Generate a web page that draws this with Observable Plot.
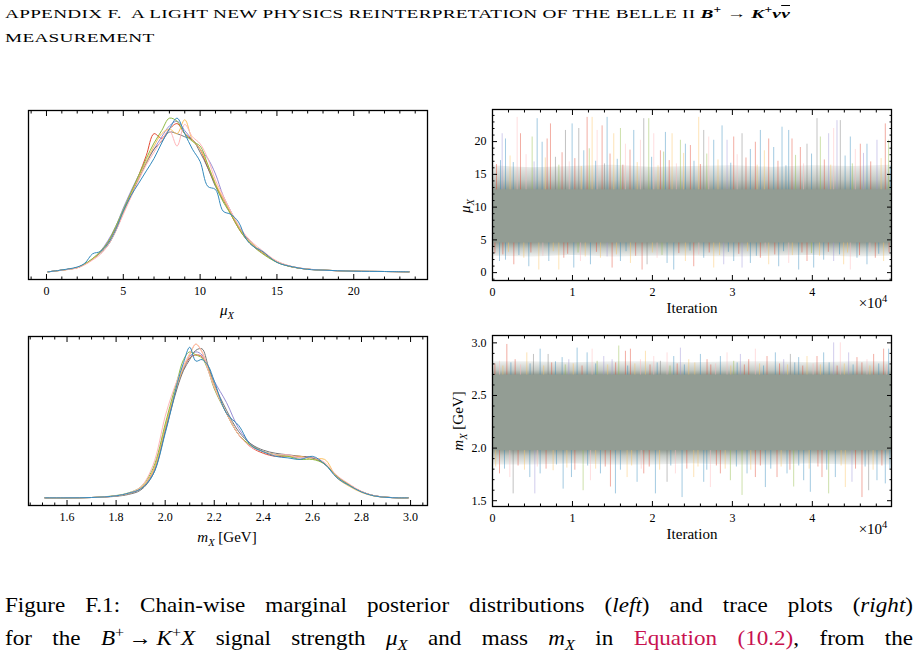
<!DOCTYPE html>
<html>
<head>
<meta charset="utf-8">
<script src="https://cdn.jsdelivr.net/npm/d3@7"></script>
<script src="https://cdn.jsdelivr.net/npm/@observablehq/plot@0.6"></script>
<style>
  body { margin: 0; background: #fff; }
  #page { position: relative; width: 919px; height: 656px; overflow: hidden; background: #fff;
          font-family: "Liberation Serif", "DejaVu Serif", serif; color: #000; }
  .abs { position: absolute; white-space: nowrap; }
  .hdr { font-size: 13.5px; left: 5px; transform-origin: 0 0; letter-spacing: 0.2px; }
  .lbl { font-size: 15px; transform: translate(-50%, -50%); }
  .rot { font-size: 15px; transform: translate(-50%, -50%) rotate(-90deg); }
  .cap { font-size: 21px; left: 5px; transform-origin: 0 0; }
  .ref { color: #c8124f; }
  .bar { text-decoration: overline; }
  sub, sup { font-size: 70%; line-height: 0; }
  .panel { position: absolute; }
</style>
</head>
<body>
<div id="page">
  <div class="abs hdr" id="hdr1" style="top:6px">APPENDIX F.&nbsp; A LIGHT NEW PHYSICS REINTERPRETATION OF THE BELLE II <b><i>B</i><sup>+</sup> → <i>K</i><sup>+</sup><i>ν<span class="bar">ν</span></i></b></div>
  <div class="abs hdr" id="hdr2" style="top:30px">MEASUREMENT</div>

  <div class="panel" id="muDensity" style="left:0px;top:100px"></div>
  <div class="panel" id="muTrace" style="left:440px;top:100px"></div>
  <div class="panel" id="mDensity" style="left:0px;top:326px"></div>
  <div class="panel" id="mTrace" style="left:440px;top:326px"></div>

  <div class="abs lbl" style="left:227px;top:310px"><i>μ<sub>X</sub></i></div>
  <div class="abs rot" style="left:465px;top:206px"><i>μ<sub>X</sub></i></div>
  <div class="abs lbl" style="left:692px;top:308px">Iteration</div>
  <div class="abs lbl" style="left:873px;top:303px">×10<sup>4</sup></div>

  <div class="abs lbl" style="left:227px;top:537px"><i>m<sub>X</sub></i> [GeV]</div>
  <div class="abs rot" style="left:458px;top:421px"><i>m<sub>X</sub></i> [GeV]</div>
  <div class="abs lbl" style="left:692px;top:534px">Iteration</div>
  <div class="abs lbl" style="left:873px;top:529px">×10<sup>4</sup></div>

  <div class="abs cap" id="cap1" style="top:593px">Figure F.1: Chain-wise marginal posterior distributions (<i>left</i>) and trace plots (<i>right</i>)</div>
  <div class="abs cap" id="cap2" style="top:626px">for the <i>B</i><sup>+</sup>&#8239;→&#8239;<i>K</i><sup>+</sup><i>X</i> signal strength <i>μ<sub>X</sub></i> and mass <i>m<sub>X</sub></i> in <span class="ref">Equation (10.2)</span>, from the</div>
</div>
<script>
// Chain colours (ggplot-style cycle), one per MCMC chain
const palette = ["#E24A33", "#348ABD", "#988ED5", "#777777", "#FBC15E", "#8EBA42", "#FFB5B8"];
// blue chain drawn last, on top
const drawOrder = [0, 2, 3, 4, 5, 6, 1];

// ---- Marginal posterior of mu_X, per chain (relative density) ----
const muGrid = [0.1, 1, 2, 2.5, 3, 3.5, 4, 4.5, 5, 5.5, 6, 6.5, 7, 7.5, 8, 8.5, 9, 9.5, 10, 10.5, 11, 11.5, 12, 12.5, 13, 13.5, 14, 15, 16, 17, 18, 20, 22, 23.6];
const muChainRed    = [0.009,0.020,0.036,0.058,0.090,0.135,0.20,0.29,0.40,0.52,0.63,0.76,0.90,0.87,0.93,0.965,0.90,0.86,0.80,0.68,0.57,0.48,0.38,0.29,0.22,0.17,0.135,0.072,0.040,0.026,0.020,0.013,0.011,0.009];
const muChainBlue   = [0.009,0.021,0.040,0.065,0.125,0.140,0.19,0.28,0.40,0.50,0.58,0.66,0.74,0.84,0.93,1.00,0.90,0.80,0.72,0.56,0.54,0.40,0.38,0.33,0.22,0.17,0.145,0.070,0.042,0.025,0.020,0.013,0.011,0.009];
const muChainPurple = [0.009,0.020,0.037,0.060,0.090,0.140,0.21,0.30,0.42,0.53,0.63,0.72,0.80,0.88,0.95,0.98,0.92,0.86,0.80,0.74,0.64,0.50,0.40,0.30,0.23,0.175,0.14,0.075,0.041,0.027,0.020,0.013,0.011,0.009];
const muChainGray   = [0.009,0.020,0.036,0.058,0.092,0.130,0.18,0.27,0.39,0.50,0.61,0.71,0.80,0.85,0.91,0.90,0.88,0.86,0.78,0.68,0.56,0.47,0.39,0.30,0.23,0.18,0.14,0.074,0.041,0.026,0.020,0.013,0.011,0.009];
const muChainYellow = [0.009,0.019,0.035,0.057,0.090,0.135,0.19,0.28,0.39,0.51,0.62,0.72,0.82,0.90,0.93,0.90,0.99,0.86,0.80,0.70,0.58,0.48,0.39,0.30,0.225,0.18,0.14,0.076,0.042,0.026,0.020,0.013,0.011,0.009];
const muChainGreen  = [0.009,0.020,0.037,0.060,0.095,0.140,0.20,0.30,0.41,0.52,0.63,0.74,0.84,0.92,1.00,0.98,0.90,0.85,0.82,0.70,0.57,0.46,0.38,0.29,0.22,0.17,0.13,0.070,0.040,0.026,0.020,0.013,0.011,0.009];
const muChainPink   = [0.009,0.019,0.034,0.055,0.085,0.120,0.18,0.27,0.38,0.49,0.60,0.70,0.78,0.86,0.92,0.82,0.96,0.88,0.835,0.74,0.60,0.50,0.40,0.31,0.24,0.19,0.15,0.078,0.043,0.027,0.020,0.013,0.011,0.009];

// ---- Marginal posterior of m_X [GeV], per chain (relative density) ----
const mGrid = [1.51, 1.6, 1.7, 1.8, 1.85, 1.9, 1.95, 2.0, 2.025, 2.05, 2.075, 2.1, 2.125, 2.15, 2.175, 2.2, 2.25, 2.3, 2.35, 2.4, 2.45, 2.5, 2.55, 2.6, 2.65, 2.7, 2.75, 2.8, 2.85, 2.9, 2.95, 2.99];
const mChainRed    = [0,0,0.002,0.012,0.027,0.060,0.17,0.45,0.60,0.73,0.84,0.91,0.93,0.92,0.84,0.72,0.55,0.41,0.33,0.29,0.27,0.27,0.27,0.26,0.22,0.14,0.085,0.040,0.014,0.004,0,0];
const mChainBlue   = [0,0,0.002,0.013,0.030,0.058,0.15,0.42,0.58,0.75,0.88,0.98,0.89,0.90,0.86,0.76,0.55,0.47,0.34,0.30,0.27,0.26,0.25,0.27,0.22,0.13,0.080,0.038,0.013,0.003,0,0];
const mChainPurple = [0,0,0.002,0.013,0.028,0.060,0.16,0.44,0.59,0.73,0.84,0.92,0.95,0.93,0.85,0.76,0.62,0.45,0.35,0.30,0.28,0.27,0.26,0.26,0.22,0.135,0.085,0.040,0.014,0.004,0,0];
const mChainGray   = [0,0,0.002,0.010,0.022,0.050,0.15,0.43,0.58,0.72,0.83,0.90,0.96,0.97,0.86,0.74,0.57,0.43,0.35,0.31,0.29,0.28,0.27,0.26,0.22,0.14,0.085,0.040,0.014,0.004,0,0];
const mChainYellow = [0,0,0.002,0.013,0.028,0.062,0.17,0.46,0.61,0.74,0.85,0.93,1.00,0.95,0.84,0.73,0.55,0.41,0.34,0.30,0.28,0.27,0.27,0.25,0.25,0.13,0.075,0.035,0.012,0.003,0,0];
const mChainGreen  = [0,0,0.002,0.015,0.032,0.070,0.19,0.48,0.63,0.77,0.90,0.95,0.93,0.91,0.83,0.71,0.55,0.41,0.34,0.30,0.28,0.27,0.25,0.25,0.22,0.14,0.085,0.040,0.014,0.004,0,0];
const mChainPink   = [0,0,0.002,0.013,0.030,0.070,0.21,0.53,0.66,0.77,0.86,0.94,1.00,0.95,0.83,0.72,0.55,0.41,0.33,0.30,0.28,0.28,0.26,0.265,0.23,0.145,0.090,0.042,0.015,0.004,0,0];

const muChains = [muChainRed, muChainBlue, muChainPurple, muChainGray, muChainYellow, muChainGreen, muChainPink];
const mChains  = [mChainRed, mChainBlue, mChainPurple, mChainGray, mChainYellow, mChainGreen, mChainPink];

// ---- Trace plots: bulk of the chains (solid core, fading shoulder and fringe) and their excursions ----
const traceBins = [0, 5000, 10000, 15000, 20000, 25000, 30000, 35000, 40000, 45000, 49900];
const muCoreLow      = [4.6, 4.5, 4.6, 4.4, 4.5, 4.6, 4.5, 4.4, 4.6, 4.5, 4.6];
const muCoreHigh     = [12.7, 12.5, 12.6, 12.8, 12.5, 12.7, 12.6, 12.5, 12.7, 12.6, 12.8];
const muShoulderLow  = [3.6, 3.5, 3.7, 3.5, 3.6, 3.6, 3.5, 3.6, 3.7, 3.5, 3.6];
const muShoulderHigh = [14.2, 14.0, 14.1, 14.3, 14.0, 14.1, 14.2, 14.0, 14.2, 14.1, 14.3];
const muFringeLow    = [2.5, 2.4, 2.6, 2.4, 2.5, 2.5, 2.4, 2.5, 2.6, 2.4, 2.5];
const muFringeHigh   = [16.3, 16.0, 16.2, 16.4, 16.1, 16.2, 16.3, 16.1, 16.3, 16.2, 16.4];
const mCoreLow       = [1.98, 1.97, 1.98, 1.98, 1.97, 1.98, 1.98, 1.97, 1.98, 1.98, 1.97];
const mCoreHigh      = [2.69, 2.70, 2.69, 2.69, 2.70, 2.69, 2.69, 2.70, 2.69, 2.69, 2.70];
const mShoulderLow   = [1.92, 1.92, 1.93, 1.92, 1.92, 1.93, 1.92, 1.92, 1.93, 1.92, 1.92];
const mShoulderHigh  = [2.74, 2.74, 2.73, 2.74, 2.74, 2.73, 2.74, 2.74, 2.73, 2.74, 2.74];
const mFringeLow     = [1.84, 1.84, 1.85, 1.84, 1.84, 1.85, 1.84, 1.84, 1.85, 1.84, 1.84];
const mFringeHigh    = [2.82, 2.82, 2.81, 2.82, 2.82, 2.81, 2.82, 2.82, 2.81, 2.82, 2.82];

// [iteration, extreme value, chain]
const muSpikesUp = [[1000,17.1,1],[1208,21.2,2],[1625,20.4,1],[3083,23.7,6],[3500,21.2,0],[4958,20.7,5],[5583,23.5,1],[6208,19.9,1],[6833,20.4,0],[7250,22.7,0],[7875,17.6,3],[9125,21.7,3],[9958,22.7,1],[10792,22.0,3],[11417,18.6,1],[11833,23.7,0],[12458,23.7,4],[13083,21.7,6],[13708,22.4,0],[14333,23.7,1],[15167,21.2,4],[16000,22.0,5],[16625,19.6,6],[17667,21.7,1],[18500,20.2,6],[18917,23.5,3],[19542,23.5,5],[20167,21.2,6],[21000,18.6,0],[21625,21.4,1],[22458,21.2,4],[23500,20.2,5],[24125,19.6,1],[24750,19.4,0],[25792,23.7,4],[26417,21.7,3],[27042,20.7,6],[27667,20.2,1],[28708,22.4,1],[29333,20.2,2],[30167,20.7,0],[31208,21.2,3],[32250,18.8,1],[32875,19.9,0],[33500,21.7,1],[34542,20.4,0],[35167,19.1,1],[36208,22.2,1],[37042,21.7,1],[37458,20.4,0],[38500,19.1,0],[39333,19.6,3],[40583,23.5,3],[41000,20.7,5],[42042,21.2,2],[42667,22.0,6],[43083,23.2,2],[43500,23.2,3],[44750,20.7,1],[45375,18.8,6],[46000,19.6,0],[46833,19.6,1],[48083,20.2,2],[49125,22.7,0],[49542,20.2,5],
  [500,16.5,0],[2200,17.8,4],[2600,16.8,1],[4200,18.0,6],[5200,16.9,2],[6600,17.5,4],[8300,16.4,5],[8700,18.3,0],[9600,16.9,6],[10300,17.4,0],[11100,16.2,4],[12100,18.9,5],[12900,17.0,1],[14000,16.6,3],[14700,18.1,0],[15600,17.3,1],[16300,16.4,0],[17200,18.7,0],[18100,16.8,4],[19900,17.6,1],[20700,16.3,4],[21400,18.4,5],[22100,17.1,0],[23000,16.6,6],[23900,18.2,4],[25200,17.0,1],[26000,16.5,0],[26800,18.1,5],[28200,17.2,4],[29800,16.7,1],[30600,18.0,6],[31700,17.5,0],[33100,16.4,4],[34000,18.6,4],[35700,17.0,0],[36700,16.3,1],[37900,17.9,5],[38900,16.6,6],[39900,18.1,1],[41500,17.2,0],[42300,16.4,4],[44100,17.8,1],[45000,16.6,5],[46400,18.2,2],[47300,16.9,0],[48600,17.4,4],[49800,16.2,1]];
const muSpikesDown = [[875,1.7,1],[1292,2.7,0],[1625,1.9,1],[2667,1.2,0],[3917,2.2,4],[4542,0.9,1],[5792,0.4,4],[7042,1.7,1],[8292,0.4,4],[8917,2.2,0],[10167,0.7,1],[11000,1.7,6],[12250,1.2,1],[13500,2.2,4],[14333,2.4,2],[14958,0.7,0],[16000,1.7,1],[17250,1.4,4],[18708,0.4,0],[19333,1.2,3],[20583,2.2,6],[21833,1.4,1],[22667,0.4,1],[24125,1.7,4],[25167,0.9,0],[26417,2.2,1],[27667,0.7,4],[28917,1.2,2],[30167,1.7,1],[31208,0.7,2],[32250,1.4,1],[33500,2.2,0],[34542,1.2,4],[35792,0.9,1],[37042,1.4,6],[38292,0.4,1],[39333,1.7,0],[40167,0.7,1],[41417,1.9,1],[42667,1.7,2],[43917,1.2,4],[44750,0.4,6],[45583,2.2,1],[46833,1.2,1],[47875,2.2,0],[48917,1.7,4],
  [300,2.9,0],[2000,3.1,4],[3300,2.6,1],[4800,3.0,0],[6300,2.5,6],[7600,3.2,4],[9400,2.8,0],[10700,3.0,5],[11600,2.4,4],[13000,3.1,0],[15500,2.7,4],[16700,3.2,1],[17900,2.5,0],[20000,3.0,4],[21200,2.6,5],[23300,2.9,0],[24700,3.3,1],[25800,2.7,6],[27100,3.0,0],[28400,2.6,4],[29500,3.1,1],[30800,2.8,0],[31900,3.2,4],[33000,2.5,1],[34100,3.0,6],[35300,2.7,0],[36400,3.2,1],[37500,2.6,4],[38700,3.0,0],[39900,2.9,5],[40900,2.5,4],[42000,3.1,0],[43400,2.7,1],[44400,3.0,4],[45900,2.6,0],[47200,3.1,6],[48300,2.8,1],[49600,3.0,0]];
const mSpikesUp = [[875,2.825,6],[1792,2.985,0],[2833,2.84,0],[4292,2.905,4],[5125,2.89,3],[5958,2.94,1],[6958,2.89,3],[7875,2.82,1],[8708,2.86,1],[9542,2.84,2],[10583,2.95,1],[11833,2.905,1],[12458,2.94,6],[13083,2.825,5],[13917,2.87,2],[14958,2.84,2],[15792,2.97,5],[16625,2.92,0],[17250,2.94,0],[18500,2.84,6],[19125,2.92,4],[20167,2.87,6],[21000,2.825,3],[21833,2.905,6],[22667,2.87,1],[23500,2.95,2],[24542,2.84,4],[26000,2.89,1],[26833,2.84,0],[28500,2.87,1],[29333,2.905,6],[30167,2.825,5],[31000,2.89,2],[32042,2.84,0],[32875,2.94,6],[34333,2.87,0],[35375,2.905,1],[36417,2.84,2],[37250,2.89,3],[38292,2.86,1],[39333,2.87,4],[40583,2.87,0],[41417,2.905,1],[42667,3.0,2],[43500,3.0,6],[44542,2.905,2],[45583,2.86,0],[46833,2.84,6],[47667,2.89,0],[48917,2.94,0],[49542,2.94,1],
  [300,2.80,0],[1300,2.78,4],[2300,2.81,1],[3500,2.79,6],[4700,2.80,1],[6400,2.78,4],[7400,2.81,0],[9100,2.79,5],[10100,2.80,4],[11200,2.78,0],[12900,2.80,1],[14400,2.79,4],[15400,2.81,0],[16900,2.78,1],[17800,2.80,4],[19700,2.79,0],[20600,2.81,1],[22200,2.78,5],[23100,2.80,0],[24000,2.79,1],[25300,2.81,4],[27300,2.79,0],[27900,2.80,6],[29800,2.78,4],[30600,2.81,1],[31500,2.79,0],[33400,2.80,4],[33900,2.78,1],[35900,2.80,0],[36900,2.79,4],[37800,2.81,1],[38800,2.78,0],[40100,2.80,6],[41000,2.79,4],[42100,2.81,1],[43100,2.78,0],[44000,2.80,4],[45100,2.79,1],[46200,2.81,0],[47200,2.78,4],[48300,2.80,1],[49300,2.79,6]];
const mSpikesDown = [[875,1.755,0],[2167,1.72,6],[2583,1.565,3],[4667,1.72,1],[5292,1.565,2],[5958,1.755,1],[7583,1.785,4],[8833,1.61,1],[9875,1.72,1],[11333,1.595,5],[12250,1.69,6],[13500,1.755,1],[14750,1.63,0],[15375,1.565,1],[16833,1.72,4],[18083,1.675,1],[18917,1.755,0],[20375,1.565,1],[21833,1.675,3],[22875,1.755,6],[23708,1.53,1],[25167,1.72,4],[26417,1.675,1],[27250,1.625,6],[28500,1.755,0],[29750,1.69,5],[31208,1.55,5],[31833,1.755,1],[32875,1.72,0],[34125,1.625,1],[35583,1.72,0],[36833,1.755,1],[37667,1.63,5],[38917,1.69,1],[39750,1.58,1],[41208,1.72,0],[42042,1.565,5],[42875,1.72,1],[44125,1.625,4],[44958,1.675,2],[46208,1.53,0],[47042,1.595,3],[48083,1.69,1],[49125,1.66,1],
  [400,1.82,4],[1500,1.80,1],[3200,1.83,0],[4000,1.79,4],[5600,1.82,6],[6700,1.80,0],[8000,1.84,1],[9300,1.81,4],[10300,1.79,0],[11900,1.83,1],[12900,1.80,4],[14100,1.82,0],[16000,1.79,1],[17400,1.83,4],[18600,1.80,6],[19600,1.82,0],[20900,1.79,4],[22300,1.83,1],[24300,1.80,0],[25700,1.82,4],[26800,1.79,1],[28000,1.83,0],[29100,1.80,4],[30500,1.82,1],[32300,1.79,4],[33500,1.83,0],[34800,1.80,1],[36100,1.82,4],[37200,1.79,0],[38300,1.83,1],[39600,1.80,4],[40700,1.82,0],[41800,1.79,1],[43600,1.83,4],[45400,1.80,0],[46600,1.82,1],[47600,1.79,4],[48700,1.83,0],[49700,1.80,1]];

// ---- Tick positions and labels ----
const isMultiple = (v, step) => Math.abs(v / step - Math.round(v / step)) < 1e-6;
const muTicks = [0, 5, 10, 15, 20];
const muMinor = d3.range(-1, 25, 1).filter(v => !isMultiple(v, 5));
const mTicks = [1.6, 1.8, 2.0, 2.2, 2.4, 2.6, 2.8, 3.0];
const mMinor = d3.range(29, 62).map(v => v * 0.05).filter(v => !isMultiple(v, 0.2));
const iterTicks = [0, 10000, 20000, 30000, 40000];
const iterMinor = d3.range(2000, 50000, 2000).filter(v => !isMultiple(v, 10000));
const muTraceTicks = [0, 5, 10, 15, 20];
const muTraceMinor = d3.range(-1, 25, 1).filter(v => !isMultiple(v, 5));
const mTraceTicks = [1.5, 2.0, 2.5, 3.0];
const mTraceMinor = d3.range(15, 31).map(v => v * 0.1).filter(v => !isMultiple(v, 0.5));

const bulkColor = "#939d94";
const plotStyle = {fontFamily: "'Liberation Serif', 'DejaVu Serif', serif", fontSize: "12px", color: "#000", background: "none", overflow: "visible"};

// Inward-facing major/minor ticks on the given sides, labels on bottom/left
function xAxisMarks(major, minor, format, sides) {
  const marks = [Plot.axisX(major, {anchor: "bottom", tickSize: 0, tickPadding: 7, tickFormat: format, label: null})];
  for (const a of sides) {
    marks.push(Plot.axisX(major, {anchor: a, tickSize: -5, fill: "none", label: null}));
    marks.push(Plot.axisX(minor, {anchor: a, tickSize: -2.5, fill: "none", label: null}));
  }
  return marks;
}
function yAxisMarks(major, minor, format, sides) {
  const marks = [Plot.axisY(major, {anchor: "left", tickSize: 0, tickPadding: 6, tickFormat: format, label: null})];
  for (const a of sides) {
    marks.push(Plot.axisY(major, {anchor: a, tickSize: -5, fill: "none", label: null}));
    marks.push(Plot.axisY(minor, {anchor: a, tickSize: -2.5, fill: "none", label: null}));
  }
  return marks;
}

function densityPanel(id, grid, chains, xDomain, major, minor, format) {
  const rows = drawOrder.flatMap(c => grid.map((x, i) => ({x, y: chains[c][i], c})));
  const [lo, hi] = d3.extent(rows, d => d.y);
  const pad = (hi - lo) * 0.05;
  const svg = Plot.plot({
    width: 440, height: 225,
    marginLeft: 28, marginRight: 13, marginTop: 10, marginBottom: 46,
    style: plotStyle,
    x: {domain: xDomain},
    y: {domain: [lo - pad, hi + pad], axis: null},
    color: {type: "identity"},
    marks: [
      Plot.line(rows, {x: "x", y: "y", z: "c", stroke: d => palette[d.c], strokeWidth: 1, curve: "catmull-rom"}),
      Plot.frame({stroke: "#000", strokeWidth: 1.3}),
      ...xAxisMarks(major, minor, format, ["bottom", "top"])
    ]
  });
  document.getElementById(id).append(svg);
}

function tracePanel(id, yDomain, yMajor, yMinor, yFormat, band, spikesUp, spikesDown) {
  const upBase = d3.mean(band.coreHigh), downBase = d3.mean(band.coreLow);
  const gradId = id + "-bulk";
  const spike = (base) => ({
    x: d => d[0], y1: base, y2: d => d[1],
    stroke: d => palette[d[2]], strokeOpacity: 0.45, strokeWidth: 1
  });
  const svg = Plot.plot({
    width: 479, height: 225,
    marginLeft: 52, marginRight: 28, marginTop: 9, marginBottom: 45,
    style: plotStyle,
    x: {domain: [0, 49900]},
    y: {domain: yDomain},
    color: {type: "identity"},
    marks: [
      Plot.areaY(traceBins, {x: traceBins, y1: band.fringeLow, y2: band.fringeHigh, fill: `url(#${gradId})`}),
      Plot.ruleX(spikesUp, spike(upBase)),
      Plot.ruleX(spikesDown, spike(downBase)),
      Plot.frame({stroke: "#000", strokeWidth: 1.3}),
      ...xAxisMarks(iterTicks, iterMinor, d => d / 10000, ["bottom", "top"]),
      ...yAxisMarks(yMajor, yMinor, yFormat, ["left", "right"])
    ]
  });
  // Vertical fade of the bulk: solid in the core, thinning out through shoulder and fringe
  const top = d3.max(band.fringeHigh), bottom = d3.min(band.fringeLow);
  const at = v => (top - v) / (top - bottom);
  const stops = [
    [0, 0.15], [at(d3.mean(band.shoulderHigh)), 0.55], [at(d3.mean(band.coreHigh)), 1],
    [at(d3.mean(band.coreLow)), 1], [at(d3.mean(band.shoulderLow)), 0.55], [1, 0.15]
  ];
  const grad = d3.select(svg).insert("defs", ":first-child")
    .append("linearGradient").attr("id", gradId)
    .attr("x1", 0).attr("y1", 0).attr("x2", 0).attr("y2", 1);
  grad.selectAll("stop").data(stops).join("stop")
    .attr("offset", d => d[0]).attr("stop-color", bulkColor).attr("stop-opacity", d => d[1]);
  document.getElementById(id).append(svg);
}

densityPanel("muDensity", muGrid, muChains, [-1.17, 24.8], muTicks, muMinor, d => String(d));
densityPanel("mDensity", mGrid, mChains, [1.443, 3.069], mTicks, mMinor, d3.format(".1f"));
tracePanel("muTrace", [-1.2, 24.9], muTraceTicks, muTraceMinor, d => String(d),
  {coreLow: muCoreLow, coreHigh: muCoreHigh, shoulderLow: muShoulderLow, shoulderHigh: muShoulderHigh, fringeLow: muFringeLow, fringeHigh: muFringeHigh},
  muSpikesUp, muSpikesDown);
tracePanel("mTrace", [1.445, 3.07], mTraceTicks, mTraceMinor, d3.format(".1f"),
  {coreLow: mCoreLow, coreHigh: mCoreHigh, shoulderLow: mShoulderLow, shoulderHigh: mShoulderHigh, fringeLow: mFringeLow, fringeHigh: mFringeHigh},
  mSpikesUp, mSpikesDown);

// Justify a caption line: mild horizontal stretch, the rest taken up by word spacing
function justifyLine(el, target, stretch) {
  const w = el.getBoundingClientRect().width;
  const spaces = (el.textContent.match(/ /g) || []).length;
  const s = Math.min(stretch, target / w);
  if (spaces) el.style.wordSpacing = Math.max(0, (target / s - w) / spaces) + "px";
  el.style.transform = `scaleX(${s})`;
}
justifyLine(document.getElementById("cap1"), 908, 1.1);
justifyLine(document.getElementById("cap2"), 908, 1.1);

// Header set to the running-head width
const h1 = document.getElementById("hdr1");
const hScale = 785 / h1.getBoundingClientRect().width;
h1.style.transform = `scaleX(${hScale})`;
document.getElementById("hdr2").style.transform = `scaleX(${hScale})`;
</script>
</body>
</html>
